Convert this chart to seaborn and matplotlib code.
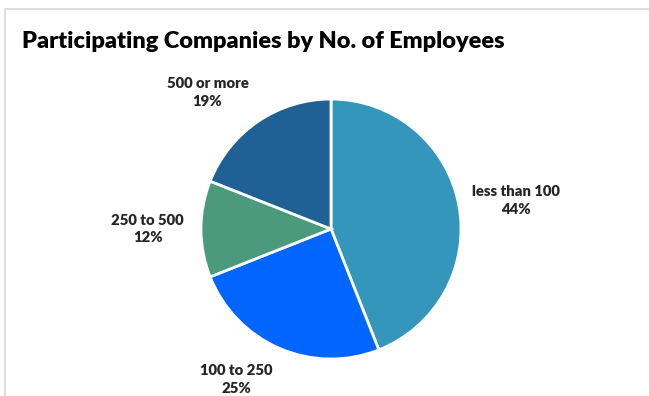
import matplotlib
matplotlib.use("Agg")
import matplotlib.pyplot as plt
from matplotlib.lines import Line2D
import seaborn as sns
import numpy as np

# Company size groups and their share of participants (%)
categories = ["less than 100", "100 to 250", "250 to 500", "500 or more"]
shares = [44, 25, 12, 19]
colors = ["#3596BB", "#0066FF", "#4C9A7D", "#1F6194"]

# Label anchor points (in pie-radius units) for each wedge's caption
label_xy = [(1.42, 0.22), (-0.73, -1.16), (-1.41, 0.0), (-0.95, 1.05)]

sns.set_theme(style="white")
plt.rcParams["font.family"] = ["Lato", "DejaVu Sans"]

W, H, R = 649, 396, 130.0
cx, cy = 331, 229  # pie centre in pixels from top-left
fig = plt.figure(figsize=(W / 100, H / 100), dpi=100)
ax = fig.add_axes([0, 0, 1, 1])

ax.pie(shares, colors=colors, startangle=90, counterclock=False, radius=1,
       wedgeprops=dict(edgecolor="white", linewidth=2))
ax.set_aspect("auto")
ax.set_xlim(-cx / R, (W - cx) / R)
ax.set_ylim(-(H - cy) / R, cy / R)
ax.axis("off")

for name, val, (x, y) in zip(categories, shares, label_xy):
    ax.text(x, y, f"{name}\n{val}%", ha="center", va="center",
            fontsize=10.7, fontweight="heavy", color="#262626", linespacing=1.45)

fig.text(22 / W, 1 - 42 / H, "Participating Companies by No. of Employees",
         ha="left", va="center", fontsize=16.9, fontweight="heavy", color="black")

# light chart-area border along the top and left edges
fig.add_artist(Line2D([5 / W, 1], [1 - 9 / H, 1 - 9 / H], transform=fig.transFigure,
                      color="#D9D9D9", linewidth=1.2))
fig.add_artist(Line2D([5 / W, 5 / W], [0, 1 - 9 / H], transform=fig.transFigure,
                      color="#D9D9D9", linewidth=1.2))

fig.savefig("out.png", dpi=100, facecolor="white")
